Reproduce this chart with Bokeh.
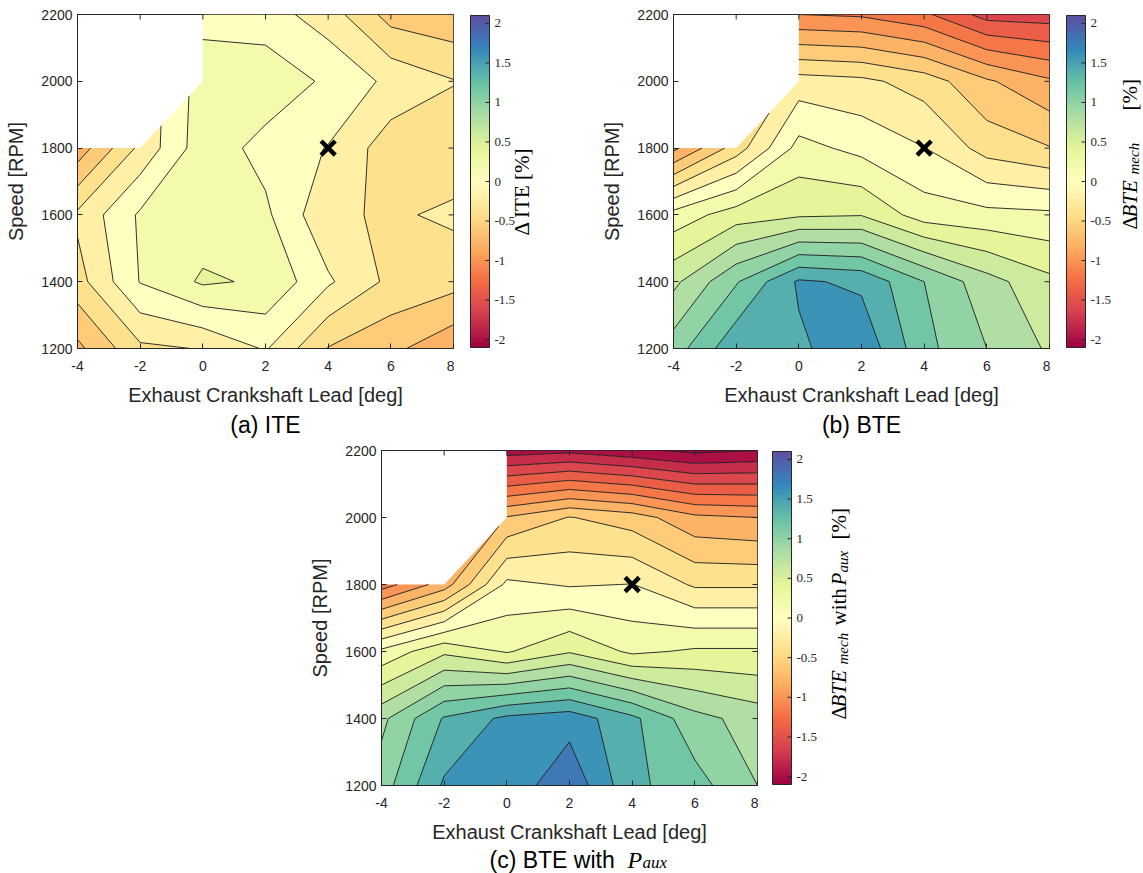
import numpy as np
from bokeh.plotting import figure
from bokeh.layouts import row, column
from bokeh.models import (Range1d, FixedTicker, Label, LinearColorMapper, CustomJSTickFormatter)
from bokeh.embed import file_html
from bokeh.resources import INLINE

# ---------------- data ----------------
x_deg = [-4, -2, 0, 2, 4, 6, 8]
y_rpm = [1200, 1400, 1600, 1800, 2000, 2200]
NaN = float("nan")

# rows: y = 1200 ... 2200 ; columns: x = -4 ... 8   (values in %)
ite = [
    [-0.65, -0.24, -0.19, 0.02, -0.41, -0.55, -0.75],
    [-0.28, 0.21, 0.43, 0.37, 0.03, -0.25, -0.33],
    [-0.16, 0.23, 0.28, 0.24, -0.16, -0.23, -0.16],
    [-0.72, -0.15, 0.32, 0.13, -0.01, -0.31, -0.33],
    [NaN, NaN, 0.30, 0.33, 0.165, -0.05, -0.19],
    [NaN, NaN, 0.14, 0.09, -0.10, -0.48, -0.55],
]
bte = [
    [1.10, 1.55, 1.56, 1.75, 1.26, 1.00, 0.77],
    [0.75, 1.18, 1.63, 1.56, 1.20, 0.88, 0.65],
    [0.28, 0.50, 0.57, 0.59, 0.30, 0.26, 0.24],
    [-0.85, -0.30, 0.27, 0.14, 0.005, -0.28, -0.39],
    [NaN, NaN, -0.11, -0.15, -0.29, -0.57, -0.77],
    [NaN, NaN, -1.00, -1.03, -1.16, -1.48, -1.50],
]
bte_aux = [
    [1.10, 1.63, 1.67, 1.95, 1.45, 1.28, 1.00],
    [0.95, 1.42, 1.65, 1.72, 1.45, 1.07, 0.91],
    [0.25, 0.56, 0.38, 0.58, 0.36, 0.43, 0.43],
    [-1.10, -0.70, 0.046, -0.02, 0.005, -0.23, -0.23],
    [NaN, NaN, -0.585, -0.39, -0.50, -0.75, -0.80],
    [NaN, NaN, -1.90, -1.85, -1.95, -2.05, -2.00],
]
marker_x = [4]
marker_y = [1800]
levels = [round(-2.4 + 0.2 * i, 1) for i in range(25)]
cbar_ticks = [-2, -1.5, -1, -0.5, 0, 0.5, 1, 1.5, 2]
cbar_labels = ["-2", "-1.5", "-1", "-0.5", "0", "0.5", "1", "1.5", "2"]
c_lo, c_hi = -2.1, 2.1

# ---------------- colours ----------------
spectral = ['#9e0142', '#d53e4f', '#f46d43', '#fdae61', '#fee08b', '#ffffbf',
            '#e6f598', '#abdda4', '#66c2a5', '#3288bd', '#5e4fa2']


def hex2rgb(h):
    return tuple(int(h[i:i + 2], 16) for i in (1, 3, 5))


def cmap(v):
    t = min(max((v - c_lo) / (c_hi - c_lo), 0.0), 1.0) * (len(spectral) - 1)
    i = min(int(t), len(spectral) - 2)
    f = t - i
    a, b = hex2rgb(spectral[i]), hex2rgb(spectral[i + 1])
    return "#%02x%02x%02x" % tuple(int(round(a[k] + (b[k] - a[k]) * f)) for k in range(3))


band_colors = [cmap(levels[i]) for i in range(len(levels) - 1)]
palette256 = [cmap(c_lo + (c_hi - c_lo) * k / 255.0) for k in range(256)]

FONT = "Liberation Sans"
SERIF = "Liberation Serif"
INK = "#262626"
FW = 376          # plot frame width (px)
BAR_W = 19        # colour bar width (px)
ROT = np.pi / 2
plain = CustomJSTickFormatter(code="return tick.toString()")


def style_axis(ax):
    ax.major_tick_in = 5
    ax.major_tick_out = 0
    ax.minor_tick_line_color = None
    ax.axis_line_color = INK
    ax.major_tick_line_color = INK
    ax.major_label_text_font = FONT
    ax.major_label_text_font_size = "14px"
    ax.major_label_text_color = INK
    ax.axis_label_text_font = FONT
    ax.axis_label_text_font_size = "20px"
    ax.axis_label_text_font_style = "normal"
    ax.axis_label_text_color = INK
    ax.formatter = plain


def txt(p, x, y, text, size, font=FONT, style="normal", angle=0.0, align="left", color="black"):
    # (x, y): screen position of the text line centre (start point for align="left")
    p.add_layout(Label(x=x, y=y, x_units="screen", y_units="screen", text=text,
                       text_font=font, text_font_size=size, text_font_style=style,
                       text_color=color, angle=angle, text_align=align, text_baseline="middle"))


def main_panel(z, left, top, bottom, height):
    p = figure(width=left + FW + 1, height=height, title=None,
               x_range=Range1d(-4, 8), y_range=Range1d(1200, 2200),
               output_backend="svg", toolbar_location=None,
               min_border_left=left, min_border_right=1,
               min_border_top=top, min_border_bottom=bottom)
    p.grid.visible = False
    p.outline_line_color = INK
    p.outline_line_width = 1
    p.contour(x=x_deg, y=y_rpm, z=np.array(z, dtype=float), levels=levels,
              fill_color=band_colors, line_color="#1a1a1a", line_width=0.9)
    # inward tick marks on the top and right edges of the box
    p.scatter(x=x_deg, y=[y_rpm[-1]] * len(x_deg), marker="dash", angle=ROT, size=10,
              line_color=INK, line_width=1)
    p.scatter(x=[x_deg[-1]] * len(y_rpm), y=y_rpm, marker="dash", size=10,
              line_color=INK, line_width=1)
    p.scatter(x=marker_x, y=marker_y, marker="x", size=20, line_width=4.5, color="black")
    p.xaxis.ticker = FixedTicker(ticks=x_deg)
    p.yaxis.ticker = FixedTicker(ticks=y_rpm)
    style_axis(p.xaxis[0])
    style_axis(p.yaxis[0])
    p.xaxis.major_label_standoff = 12
    p.xaxis.axis_label_standoff = 10
    p.yaxis.major_label_standoff = 5
    p.yaxis.axis_label_standoff = 11
    p.xaxis.axis_label = "Exhaust Crankshaft Lead [deg]"
    p.yaxis.axis_label = "Speed [RPM]"
    return p


def cbar_panel(left, frame_w, top, bottom, height, fh):
    # frame is 1 px larger than the bar on every side so the bar outline is not clipped
    dpx = (c_hi - c_lo) / fh
    cb = figure(width=left + frame_w, height=height, title=None,
                x_range=Range1d(-1, frame_w - 1), y_range=Range1d(c_lo - dpx, c_hi + dpx),
                output_backend="svg", toolbar_location=None,
                min_border_left=left, min_border_right=0,
                min_border_top=top, min_border_bottom=bottom,
                x_axis_location=None, y_axis_location=None)
    cb.grid.visible = False
    cb.outline_line_color = None
    mapper = LinearColorMapper(palette=palette256, low=c_lo, high=c_hi)
    grad = np.linspace(c_lo, c_hi, 256).reshape(256, 1)
    cb.image(image=[grad], x=0, y=c_lo, dw=BAR_W, dh=c_hi - c_lo, color_mapper=mapper)
    cb.quad(left=0, right=BAR_W, bottom=c_lo, top=c_hi, fill_color=None,
            line_color=INK, line_width=1)
    n = len(cbar_ticks)
    cb.segment(x0=[BAR_W - 4] * n, x1=[BAR_W] * n, y0=cbar_ticks, y1=cbar_ticks,
               line_color=INK, line_width=1)
    cb.text(x=[BAR_W + 5] * n, y=cbar_ticks, text=cbar_labels, text_font=FONT,
            text_font_size="13px", text_baseline="middle", text_color=INK)
    return cb


def caption_fig(width, height):
    c = figure(width=width, height=height, title=None,
               x_range=Range1d(0, width), y_range=Range1d(0, height),
               output_backend="svg", toolbar_location=None,
               min_border_left=0, min_border_right=0, min_border_top=0, min_border_bottom=0,
               x_axis_location=None, y_axis_location=None)
    c.grid.visible = False
    c.outline_line_color = None
    return c


# ---------- row 1 (plots a, b) ----------
H1, T1, B1 = 412, 14, 64
FH1 = H1 - T1 - B1
pa = main_panel(ite, left=77, top=T1, bottom=B1, height=H1)
cba = cbar_panel(left=15, frame_w=91, top=T1 - 1, bottom=B1 - 1, height=H1, fh=FH1)
txt(cba, 52, 113, "\u0394 ITE [%]", "21px", font=SERIF, angle=ROT)

pb = main_panel(bte, left=113, top=T1, bottom=B1, height=H1)
cbb = cbar_panel(left=15, frame_w=78, top=T1 - 1, bottom=B1 - 1, height=H1, fh=FH1)
txt(cbb, 64, 119, "\u0394", "21px", font=SERIF, angle=ROT)
txt(cbb, 64, 131, "BTE", "21px", font=SERIF, style="italic", angle=ROT)
txt(cbb, 68, 174, "mech", "15px", font=SERIF, style="italic", angle=ROT)
txt(cbb, 64, 238, "[%]", "21px", font=SERIF, angle=ROT)

cap1 = caption_fig(1143, 26)
txt(cap1, 265, 14, "(a) ITE", "23px", align="center")
txt(cap1, 861, 14, "(b) BTE", "23px", align="center")

# ---------- row 2 (plot c) ----------
H2, T2, B2 = 407, 12, 60
FH2 = H2 - T2 - B2
pc = main_panel(bte_aux, left=381, top=T2, bottom=B2, height=H2)
cbc = cbar_panel(left=13, frame_w=372, top=T2 - 1, bottom=B2 - 1, height=H2, fh=FH2)
txt(cbc, 67, 66, "\u0394", "21px", font=SERIF, angle=ROT)
txt(cbc, 67, 78, "BTE", "21px", font=SERIF, style="italic", angle=ROT)
txt(cbc, 71, 121, "mech", "15px", font=SERIF, style="italic", angle=ROT)
txt(cbc, 67, 160, "with", "21px", font=SERIF, angle=ROT)
txt(cbc, 67, 200, "P", "21px", font=SERIF, style="italic", angle=ROT)
txt(cbc, 71, 213, "aux", "15px", font=SERIF, style="italic", angle=ROT)
txt(cbc, 67, 246, "[%]", "21px", font=SERIF, angle=ROT)

cap2 = caption_fig(1143, 28)
txt(cap2, 489, 14, "(c) BTE with", "23px")
txt(cap2, 627, 14, "P", "24px", font=SERIF, style="italic")
txt(cap2, 642, 11, "aux", "17px", font=SERIF, style="italic")

lay = column(row(pa, cba, pb, cbb), cap1, row(pc, cbc), cap2)
open("out.html", "w").write(file_html(lay, INLINE))
